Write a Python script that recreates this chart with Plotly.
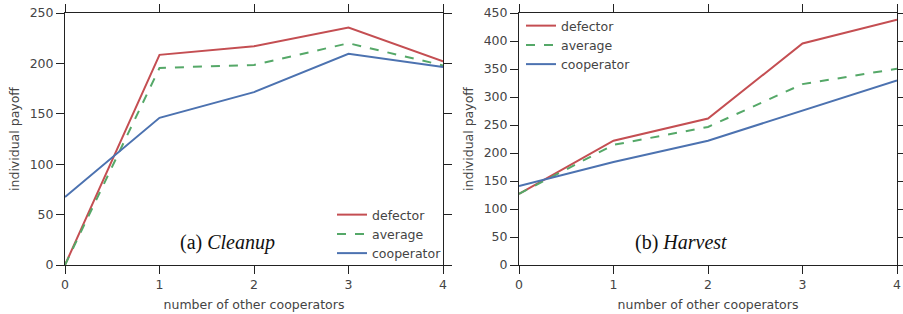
import plotly.graph_objects as go

x_coop = [0, 1, 2, 3, 4]

cleanup_defector = [0, 208.5, 217, 235.5, 202]
cleanup_average = [0, 195.5, 198.5, 220, 198]
cleanup_cooperator = [67.5, 146, 171.5, 209.5, 196.5]

harvest_defector = [127, 222, 261.5, 395.5, 438]
harvest_average = [127, 214.5, 246.5, 323, 350.5]
harvest_cooperator = [141, 184, 222, 276, 329.5]

series_names = ["defector", "average", "cooperator"]
colors = {"defector": "#C44E52", "average": "#55A868", "cooperator": "#4C72B0"}
dashes = {"defector": "solid", "average": "dash", "cooperator": "solid"}

fig = go.Figure()

left = [cleanup_defector, cleanup_average, cleanup_cooperator]
right = [harvest_defector, harvest_average, harvest_cooperator]

for name, ys in zip(series_names, left):
    fig.add_trace(go.Scatter(x=x_coop, y=ys, mode="lines", name=name,
                             line=dict(color=colors[name], width=2, dash=dashes[name]),
                             xaxis="x", yaxis="y", legend="legend"))
for name, ys in zip(series_names, right):
    fig.add_trace(go.Scatter(x=x_coop, y=ys, mode="lines", name=name,
                             line=dict(color=colors[name], width=2, dash=dashes[name]),
                             xaxis="x2", yaxis="y2", legend="legend2"))

W, H = 903, 314
FS = 12.5
ax_common = dict(showline=True, mirror="ticks", linecolor="#222", linewidth=1,
                 ticks="outside", ticklen=8, tickwidth=1, tickcolor="#222",
                 showgrid=False, zeroline=False, automargin=False,
                 ticklabeloverflow="allow",
                 tickfont=dict(family="DejaVu Sans", size=FS, color="#444"))
title_font = dict(family="DejaVu Sans", size=FS, color="#444")
legend_font = dict(family="DejaVu Sans", size=FS, color="#444")

ybot = 1 - 265 / H
ytop = 1 - 13 / H

fig.update_layout(
    width=W, height=H,
    margin=dict(l=0, r=0, t=0, b=0, autoexpand=False),
    paper_bgcolor="white", plot_bgcolor="white",
    xaxis=dict(domain=[65 / W, 443 / W], range=[0, 4], dtick=1, anchor="y",
               title=dict(text="number of other cooperators", font=title_font, standoff=9),
               **ax_common),
    yaxis=dict(domain=[ybot, ytop], range=[0, 250], dtick=50, anchor="x",
               title=dict(text="individual payoff", font=title_font, standoff=7),
               **ax_common),
    xaxis2=dict(domain=[519 / W, 897 / W], range=[0, 4], dtick=1, anchor="y2",
                title=dict(text="number of other cooperators", font=title_font, standoff=9),
                **ax_common),
    yaxis2=dict(domain=[ybot, ytop], range=[0, 450], dtick=50, anchor="x2",
                title=dict(text="individual payoff", font=title_font, standoff=7),
                **ax_common),
    legend=dict(x=332 / W, y=1 - 200 / H, xanchor="left", yanchor="top",
                bgcolor="rgba(0,0,0,0)", font=legend_font,
                tracegroupgap=0, itemwidth=30),
    legend2=dict(x=521 / W, y=1 - 11 / H, xanchor="left", yanchor="top",
                 bgcolor="rgba(0,0,0,0)", font=legend_font,
                 tracegroupgap=0, itemwidth=30),
    showlegend=True,
    annotations=[
        dict(text="(a) <i>Cleanup</i>", x=1.72, y=22, xref="x", yref="y", showarrow=False,
             font=dict(family="Liberation Serif", size=20, color="#111")),
        dict(text="(b) <i>Harvest</i>", x=1.71, y=40, xref="x2", yref="y2", showarrow=False,
             font=dict(family="Liberation Serif", size=20, color="#111")),
    ],
)

fig.write_html("out.html",
               config={"displayModeBar": False},
               post_script="document.body.style.margin='0';document.body.style.overflow='hidden';")
